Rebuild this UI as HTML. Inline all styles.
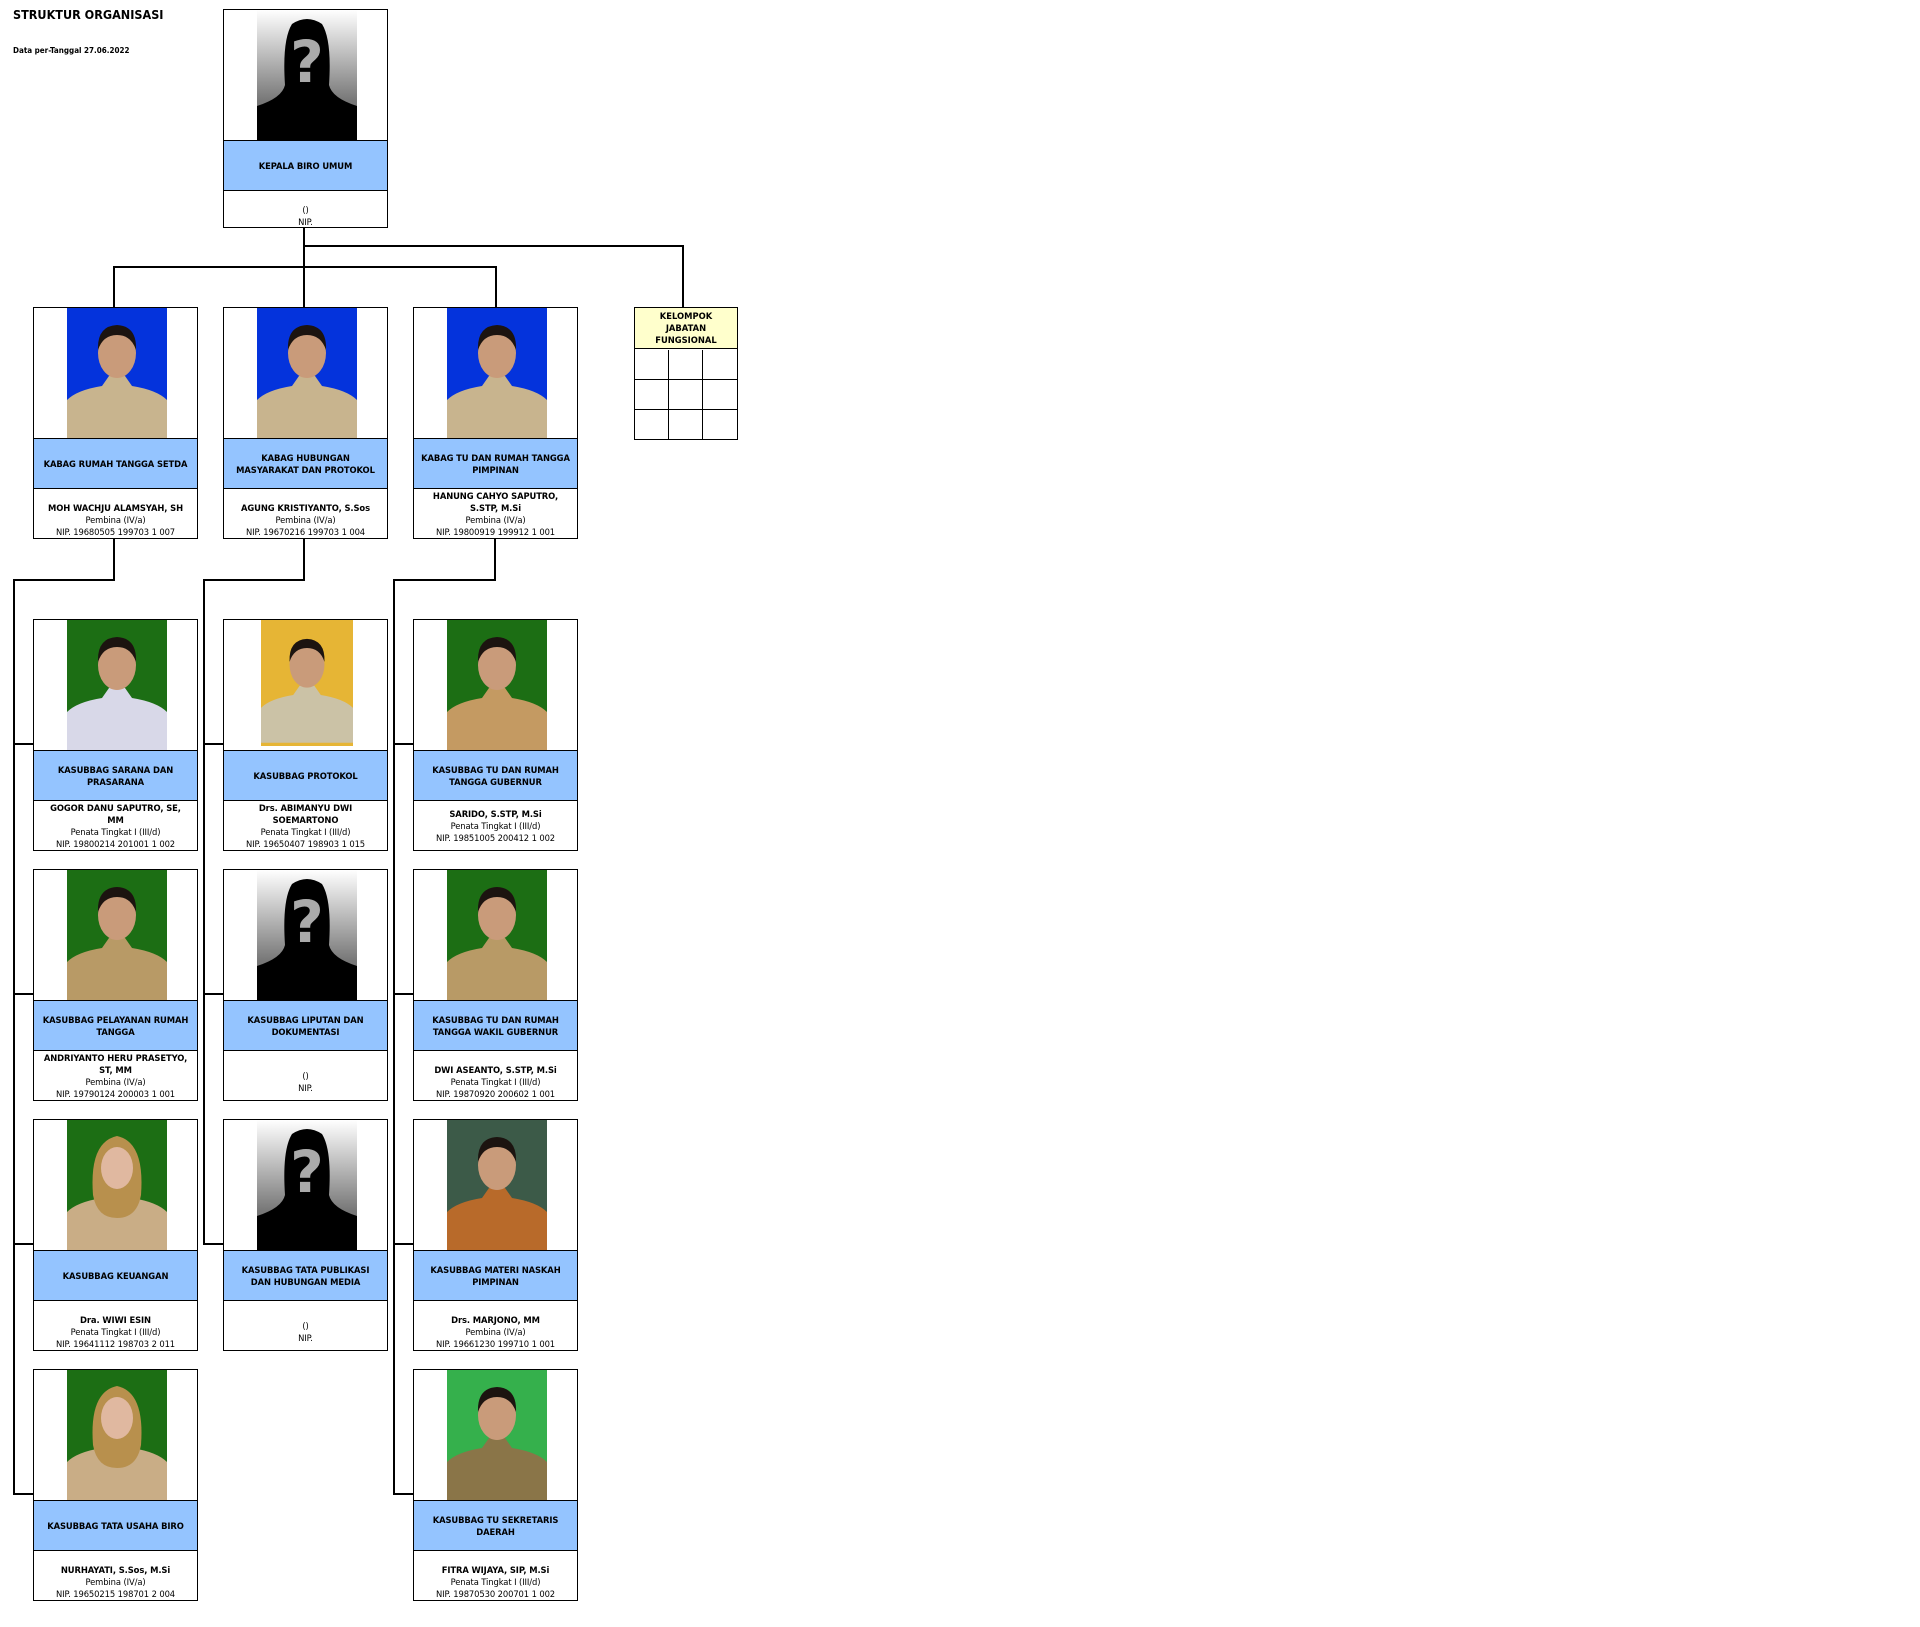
<!DOCTYPE html>
<html><head><meta charset="utf-8">
<style>
body{margin:0;width:1920px;height:1627px;background:#fff;position:relative;overflow:hidden;font-family:"DejaVu Sans","Liberation Sans",sans-serif;color:#000}
.t{position:absolute;left:13px;top:7px;font-size:12.5px;font-weight:bold;font-family:"DejaVu Sans Condensed","DejaVu Sans",sans-serif}
.s{position:absolute;left:13px;top:46px;font-size:8px;font-weight:bold;font-family:"DejaVu Sans Condensed","DejaVu Sans",sans-serif}
.b{position:absolute;width:163px;height:230px;border:1px solid #000;background:#fff}
.ph{position:absolute;left:0;top:0;width:163px;height:130px;overflow:hidden}
.ph svg{position:absolute;left:33px;top:0}
.bl{position:absolute;left:0;top:130px;width:163px;height:49px;border-top:1px solid #000;border-bottom:1px solid #000;background:#94c4ff;display:flex;align-items:center;justify-content:center;text-align:center;font-size:8.4px;font-weight:bold;line-height:12px;letter-spacing:-0.1px;font-family:"DejaVu Sans",sans-serif;white-space:nowrap}
.in{position:absolute;left:0;top:181px;width:163px;height:49px;display:flex;flex-direction:column;justify-content:flex-end;align-items:center;text-align:center;font-size:8.4px;line-height:12px;font-family:"DejaVu Sans",sans-serif;white-space:nowrap;letter-spacing:-0.1px}
.in b{font-weight:bold}
.l{position:absolute;background:#000}
</style></head><body>
<div class="t">STRUKTUR ORGANISASI</div>
<div class="s">Data per-Tanggal 27.06.2022</div>

<div class="l" style="left:303px;top:227px;width:2px;height:81px"></div>
<div class="l" style="left:303px;top:245px;width:381px;height:2px"></div>
<div class="l" style="left:682px;top:245px;width:2px;height:63px"></div>
<div class="l" style="left:113px;top:266px;width:384px;height:2px"></div>
<div class="l" style="left:113px;top:266px;width:2px;height:42px"></div>
<div class="l" style="left:495px;top:266px;width:2px;height:42px"></div>

<div class="l" style="left:113px;top:538px;width:2px;height:43px"></div>
<div class="l" style="left:13px;top:579px;width:102px;height:2px"></div>
<div class="l" style="left:13px;top:579px;width:2px;height:916px"></div>
<div class="l" style="left:13px;top:743px;width:20px;height:2px"></div>
<div class="l" style="left:13px;top:993px;width:20px;height:2px"></div>
<div class="l" style="left:13px;top:1243px;width:20px;height:2px"></div>
<div class="l" style="left:13px;top:1493px;width:20px;height:2px"></div>

<div class="l" style="left:303px;top:538px;width:2px;height:43px"></div>
<div class="l" style="left:203px;top:579px;width:102px;height:2px"></div>
<div class="l" style="left:203px;top:579px;width:2px;height:666px"></div>
<div class="l" style="left:203px;top:743px;width:20px;height:2px"></div>
<div class="l" style="left:203px;top:993px;width:20px;height:2px"></div>
<div class="l" style="left:203px;top:1243px;width:20px;height:2px"></div>

<div class="l" style="left:494px;top:538px;width:2px;height:43px"></div>
<div class="l" style="left:393px;top:579px;width:103px;height:2px"></div>
<div class="l" style="left:393px;top:579px;width:2px;height:916px"></div>
<div class="l" style="left:393px;top:743px;width:20px;height:2px"></div>
<div class="l" style="left:393px;top:993px;width:20px;height:2px"></div>
<div class="l" style="left:393px;top:1243px;width:20px;height:2px"></div>
<div class="l" style="left:393px;top:1493px;width:20px;height:2px"></div>

<svg width="0" height="0" style="position:absolute">
<defs>
<linearGradient id="g" x1="0" y1="0" x2="0" y2="1"><stop offset="0" stop-color="#fff"/><stop offset="0.7" stop-color="#777"/></linearGradient>
<symbol id="q" viewBox="0 0 100 130"><rect width="100" height="130" fill="url(#g)"/><path d="M28 75 Q25 30 35 14 Q50 4 65 14 Q75 30 72 75 Q75 88 100 96 L100 130 L0 130 L0 96 Q25 88 28 75Z" fill="#000"/><text x="50" y="72" font-size="58" font-family="DejaVu Sans" font-weight="bold" fill="#aaa" text-anchor="middle">?</text></symbol>
<symbol id="p" viewBox="0 0 100 130"><path d="M0 92 Q10 82 35 78 L42 68 L58 68 L65 78 Q90 82 100 92 L100 130 L0 130Z" fill="currentColor"/><ellipse cx="50" cy="45" rx="19" ry="25" fill="#c99b7a"/><path d="M31 42 Q30 18 50 17 Q70 18 69 42 Q64 27 50 27 Q36 27 31 42Z" fill="#1c1410"/></symbol>
<symbol id="h" viewBox="0 0 100 130"><path d="M0 92 Q10 82 35 78 L42 68 L58 68 L65 78 Q90 82 100 92 L100 130 L0 130Z" fill="#c9ad86"/><path d="M26 75 Q22 22 50 16 Q78 22 74 75 Q70 98 50 98 Q30 98 26 75Z" fill="#b8904d"/><ellipse cx="50" cy="48" rx="16" ry="21" fill="#e0b8a0"/></symbol>
</defs></svg>

<div class="b" style="left:223px;top:9px;height:217px">
<div class="ph"><svg width="100" height="130"><use href="#q"/></svg></div>
<div class="bl">KEPALA BIRO UMUM</div>
<div class="in" style="height:37px">()<br>NIP.</div></div>

<div class="b" style="left:33px;top:307px"><div class="ph"><svg width="100" height="130" style="color:#c8b48e"><rect width="100" height="130" fill="#0433dc"/><use href="#p"/></svg></div>
<div class="bl">KABAG RUMAH TANGGA SETDA</div><div class="in"><div><b>MOH WACHJU ALAMSYAH, SH</b><br>Pembina (IV/a)<br>NIP. 19680505 199703 1 007</div></div></div>

<div class="b" style="left:223px;top:307px"><div class="ph"><svg width="100" height="130" style="color:#c8b48e"><rect width="100" height="130" fill="#0433dc"/><use href="#p"/></svg></div>
<div class="bl">KABAG HUBUNGAN<br>MASYARAKAT DAN PROTOKOL</div><div class="in"><div><b>AGUNG KRISTIYANTO, S.Sos</b><br>Pembina (IV/a)<br>NIP. 19670216 199703 1 004</div></div></div>

<div class="b" style="left:413px;top:307px"><div class="ph"><svg width="100" height="130" style="color:#c8b48e"><rect width="100" height="130" fill="#0433dc"/><use href="#p"/></svg></div>
<div class="bl">KABAG TU DAN RUMAH TANGGA<br>PIMPINAN</div><div class="in"><div><b>HANUNG CAHYO SAPUTRO,<br>S.STP, M.Si</b><br>Pembina (IV/a)<br>NIP. 19800919 199912 1 001</div></div></div>

<div style="position:absolute;left:634px;top:307px;width:102px;height:131px;border:1px solid #000;background:#fff">
<div style="height:41px;background:#ffffcc;border-bottom:1px solid #000;font-size:8.4px;font-weight:bold;line-height:12px;text-align:center;padding-top:2px;box-sizing:border-box;font-family:'DejaVu Sans',sans-serif">KELOMPOK<br>JABATAN<br>FUNGSIONAL</div>
<div class="l" style="left:0;top:71px;width:102px;height:1px"></div>
<div class="l" style="left:0;top:101px;width:102px;height:1px"></div>
<div class="l" style="left:33px;top:42px;width:1px;height:89px"></div>
<div class="l" style="left:67px;top:42px;width:1px;height:89px"></div>
</div>

<div class="b" style="left:33px;top:619px"><div class="ph"><svg width="100" height="130" style="color:#d8d8e8"><rect width="100" height="130" fill="#1c6e14"/><use href="#p"/></svg></div>
<div class="bl">KASUBBAG SARANA DAN<br>PRASARANA</div><div class="in"><div><b>GOGOR DANU SAPUTRO, SE,<br>MM</b><br>Penata Tingkat I (III/d)<br>NIP. 19800214 201001 1 002</div></div></div>

<div class="b" style="left:33px;top:869px"><div class="ph"><svg width="100" height="130" style="color:#b89a66"><rect width="100" height="130" fill="#1c6e14"/><use href="#p"/></svg></div>
<div class="bl">KASUBBAG PELAYANAN RUMAH<br>TANGGA</div><div class="in"><div><b>ANDRIYANTO HERU PRASETYO,<br>ST, MM</b><br>Pembina (IV/a)<br>NIP. 19790124 200003 1 001</div></div></div>

<div class="b" style="left:33px;top:1119px"><div class="ph"><svg width="100" height="130"><rect width="100" height="130" fill="#1c6e14"/><use href="#h"/></svg></div>
<div class="bl">KASUBBAG KEUANGAN</div><div class="in"><div><b>Dra. WIWI ESIN</b><br>Penata Tingkat I (III/d)<br>NIP. 19641112 198703 2 011</div></div></div>

<div class="b" style="left:33px;top:1369px"><div class="ph"><svg width="100" height="130"><rect width="100" height="130" fill="#1c6e14"/><use href="#h"/></svg></div>
<div class="bl">KASUBBAG TATA USAHA BIRO</div><div class="in"><div><b>NURHAYATI, S.Sos, M.Si</b><br>Pembina (IV/a)<br>NIP. 19650215 198701 2 004</div></div></div>

<div class="b" style="left:223px;top:619px"><div class="ph"><svg width="92" height="126" style="left:37px;color:#cbc2a6"><rect width="92" height="126" fill="#e6b535"/><use href="#p" width="92" height="126"/></svg></div>
<div class="bl">KASUBBAG PROTOKOL</div><div class="in"><div><b>Drs. ABIMANYU DWI<br>SOEMARTONO</b><br>Penata Tingkat I (III/d)<br>NIP. 19650407 198903 1 015</div></div></div>

<div class="b" style="left:223px;top:869px"><div class="ph"><svg width="100" height="130"><use href="#q"/></svg></div>
<div class="bl">KASUBBAG LIPUTAN DAN<br>DOKUMENTASI</div><div class="in" style="padding-bottom:6px;height:43px">()<br>NIP.</div></div>

<div class="b" style="left:223px;top:1119px"><div class="ph"><svg width="100" height="130"><use href="#q"/></svg></div>
<div class="bl">KASUBBAG TATA PUBLIKASI<br>DAN HUBUNGAN MEDIA</div><div class="in" style="padding-bottom:6px;height:43px">()<br>NIP.</div></div>

<div class="b" style="left:413px;top:619px"><div class="ph"><svg width="100" height="130" style="color:#c49a62"><rect width="100" height="130" fill="#1c6e14"/><use href="#p"/></svg></div>
<div class="bl">KASUBBAG TU DAN RUMAH<br>TANGGA GUBERNUR</div><div class="in" style="padding-bottom:6px;height:43px"><div><b>SARIDO, S.STP, M.Si</b><br>Penata Tingkat I (III/d)<br>NIP. 19851005 200412 1 002</div></div></div>

<div class="b" style="left:413px;top:869px"><div class="ph"><svg width="100" height="130" style="color:#b89a66"><rect width="100" height="130" fill="#1c6e14"/><use href="#p"/></svg></div>
<div class="bl">KASUBBAG TU DAN RUMAH<br>TANGGA WAKIL GUBERNUR</div><div class="in"><div><b>DWI ASEANTO, S.STP, M.Si</b><br>Penata Tingkat I (III/d)<br>NIP. 19870920 200602 1 001</div></div></div>

<div class="b" style="left:413px;top:1119px"><div class="ph"><svg width="100" height="130" style="color:#b86a2a"><rect width="100" height="130" fill="#3c5a48"/><use href="#p"/></svg></div>
<div class="bl">KASUBBAG MATERI NASKAH<br>PIMPINAN</div><div class="in"><div><b>Drs. MARJONO, MM</b><br>Pembina (IV/a)<br>NIP. 19661230 199710 1 001</div></div></div>

<div class="b" style="left:413px;top:1369px"><div class="ph"><svg width="100" height="130" style="color:#8a7548"><rect width="100" height="130" fill="#35b04c"/><use href="#p"/></svg></div>
<div class="bl">KASUBBAG TU SEKRETARIS<br>DAERAH</div><div class="in"><div><b>FITRA WIJAYA, SIP, M.Si</b><br>Penata Tingkat I (III/d)<br>NIP. 19870530 200701 1 002</div></div></div>

</body></html>
